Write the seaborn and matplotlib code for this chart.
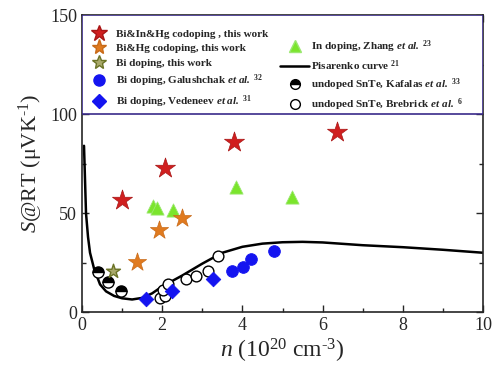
import matplotlib
matplotlib.use('Agg')
import matplotlib.pyplot as plt
from matplotlib.lines import Line2D
from matplotlib.patches import Rectangle
import seaborn as sns

# data: n in 1e20 cm^-3, S in uV/K
bi_in_hg_n = [0.99, 2.07, 3.80, 6.35]
bi_in_hg_s = [56.5, 72.6, 86.0, 91.0]
bi_hg_n = [1.36, 1.91, 2.49]
bi_hg_s = [25.4, 41.4, 47.3]
bi_n = [0.78]
bi_s = [20.9]
zhang_n = [1.78, 1.86, 2.28, 3.84, 5.24]
zhang_s = [53.5, 52.4, 51.5, 63.0, 58.0]
galush_n = [3.73, 4.02, 4.21, 4.80]
galush_s = [20.9, 22.9, 26.8, 30.8]
veden_n = [1.60, 2.25, 3.26]
veden_s = [6.6, 10.6, 16.5]
kafalas_n = [0.41, 0.66, 0.97]
kafalas_s = [20.4, 15.0, 10.6]
brebrick_n = [1.95, 2.07, 2.01, 2.15, 2.59, 2.84, 3.13, 3.40]
brebrick_s = [6.9, 8.1, 11.1, 14.1, 16.5, 18.2, 20.9, 28.4]
pis_n = [0.05, 0.1, 0.15, 0.2, 0.3, 0.45, 0.6, 0.8, 1.0, 1.25, 1.5, 1.75, 2.0,
         2.5, 3.0, 3.5, 4.0, 4.5, 5.0, 5.5, 6.0, 7.0, 8.0, 9.0, 10.0]
pis_s = [84, 50, 38, 30, 22, 14, 10.5, 8.2, 7.0, 6.4, 7.2, 9.5, 13.0,
         18.5, 24.5, 30.0, 33.0, 34.6, 35.3, 35.5, 35.2, 33.8, 32.8, 31.5, 30.0]

sns.set_style('ticks')
plt.rcParams['font.family'] = ['Liberation Serif', 'DejaVu Serif']
plt.rcParams['mathtext.fontset'] = 'custom'
plt.rcParams['mathtext.rm'] = 'Liberation Serif'
plt.rcParams['mathtext.it'] = 'Liberation Serif:italic'
plt.rcParams['mathtext.bf'] = 'Liberation Serif:bold'
plt.rcParams['mathtext.bfit'] = 'Liberation Serif:bold:italic'

RED = '#d01f1f'
ORANGE = '#e07a1f'
OLIVE = '#6b7326'
GREEN = '#7be52c'
BLUE = '#1414f0'

fig = plt.figure(figsize=(5, 3.77), dpi=100)
ax = fig.add_axes([0.164, 0.172, 0.802, 0.788])

sns.lineplot(x=pis_n, y=pis_s, color='black', lw=1.8, sort=False, estimator=None, ax=ax)
sns.lineplot(x=kafalas_n, y=kafalas_s, color='black', linestyle='none', marker='o',
             markersize=8, fillstyle='top', markerfacecoloralt='white',
             markeredgecolor='black', markeredgewidth=1.0, sort=False, estimator=None, ax=ax)
sns.scatterplot(x=brebrick_n, y=brebrick_s, marker='o', s=60, facecolor='white',
                edgecolor='black', linewidth=1.0, ax=ax, zorder=3)
sns.scatterplot(x=veden_n, y=veden_s, marker='D', s=55, color=BLUE, edgecolor=BLUE, ax=ax, zorder=3)
sns.scatterplot(x=galush_n, y=galush_s, marker='o', s=70, color=BLUE, edgecolor=BLUE, ax=ax, zorder=3)
sns.scatterplot(x=zhang_n, y=zhang_s, marker='^', s=90, color=GREEN, edgecolor='#9be870', linewidth=0.6, ax=ax, zorder=3)
sns.scatterplot(x=bi_n, y=bi_s, marker='*', s=110, facecolor='#a9a96a', edgecolor=OLIVE, linewidth=1.0, ax=ax, zorder=3)
sns.scatterplot(x=bi_hg_n, y=bi_hg_s, marker='*', s=190, color=ORANGE, edgecolor='#c86a18', linewidth=0.5, ax=ax, zorder=3)
sns.scatterplot(x=bi_in_hg_n, y=bi_in_hg_s, marker='*', s=230, color=RED, edgecolor='#a81515', linewidth=0.5, ax=ax, zorder=3)

ax.set_xlim(0, 10)
ax.set_ylim(0, 150)
ax.set_xticks([0, 2, 4, 6, 8, 10])
ax.set_xticks([1, 3, 5, 7, 9], minor=True)
ax.set_yticks([0, 50, 100, 150])
ax.set_yticks([25, 75, 125], minor=True)
ax.tick_params(which='both', direction='in', top=True, right=True, labelsize=13, width=1.0)
ax.tick_params(which='major', length=5)
ax.tick_params(which='minor', length=3)
for sp in ax.spines.values():
    sp.set_linewidth(1.2)
ax.set_xlabel(r'$\mathit{n}$ (10$^{20}$ cm$^{\text{-}3}$)', fontsize=17, labelpad=2)
ax.set_ylabel(r'$\mathit{S}$@RT (μVK$^{\text{-}1}$)', fontsize=16, labelpad=4)

# legend box
ax.add_patch(Rectangle((0, 100 / 150), 1, 50 / 150, transform=ax.transAxes,
                       facecolor='white', edgecolor='#3a2a8a', lw=1.2, zorder=4))

left_handles = [
    Line2D([], [], ls='none', marker='*', ms=12, color=RED, mec='#a81515'),
    Line2D([], [], ls='none', marker='*', ms=11, color=ORANGE, mec='#c86a18'),
    Line2D([], [], ls='none', marker='*', ms=10, mfc='#a9a96a', mec=OLIVE),
    Line2D([], [], ls='none', marker='o', ms=8, color=BLUE),
    Line2D([], [], ls='none', marker='D', ms=7, color=BLUE),
]
left_labels = [
    'Bi&In&Hg codoping , this work',
    'Bi&Hg codoping, this work',
    'Bi doping, this work',
    r'Bi doping, Galushchak $\mathbfit{et\ al.}$ $^{\mathbf{32}}$',
    r'Bi doping, Vedeneev $\mathbfit{et\ al.}$ $^{\mathbf{31}}$',
]
right_handles = [
    Line2D([], [], ls='none', marker='^', ms=9, color=GREEN, mec='#9be870'),
    Line2D([], [], color='black', lw=1.8),
    Line2D([], [], ls='none', marker='o', ms=7, fillstyle='top', color='black',
           markerfacecoloralt='white', mec='black'),
    Line2D([], [], ls='none', marker='o', ms=7, mfc='white', mec='black'),
]
right_labels = [
    r'In doping, Zhang $\mathbfit{et\ al.}$ $^{\mathbf{23}}$',
    r'Pisarenko curve $^{\mathbf{21}}$',
    r'undoped SnTe, Kafalas $\mathbfit{et\ al.}$ $^{\mathbf{33}}$',
    r'undoped SnTe, Brebrick $\mathbfit{et\ al.}$ $^{\mathbf{6}}$',
]
prop = {'family': 'Liberation Serif', 'weight': 'bold', 'size': 8}
leg1 = ax.legend(left_handles, left_labels, loc='upper left', bbox_to_anchor=(0.025, 0.952),
                 frameon=False, prop=prop, handlelength=1.2, handletextpad=1.0,
                 labelspacing=0.4, borderpad=0, borderaxespad=0)
leg1.set_zorder(5)
ax.add_artist(leg1)
leg2 = ax.legend(right_handles, right_labels, loc='upper left', bbox_to_anchor=(0.494, 0.92),
                 frameon=False, prop=prop, handlelength=2.6, handletextpad=0.15,
                 labelspacing=0.3, borderpad=0, borderaxespad=0)
leg2.set_zorder(5)

fig.savefig('out.png', dpi=100)
